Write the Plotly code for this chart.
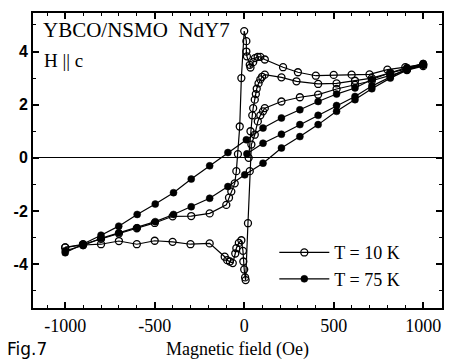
import plotly.graph_objects as go

# ---- data ----
# T = 10 K (open circles)
h10_desc = [1000, 900, 800, 700, 600, 500, 400, 300, 217, 115, 90, 75, 60, 50, 35, 31, 15, 12, 12, 0,
            -16, -25, -35, -44, -53, -72, -85, -100, -193, -296, -400, -500, -600, -700, -800, -900, -1000]
m10_desc = [3.51, 3.41, 3.32, 3.14, 3.13, 3.12, 3.09, 3.22, 3.41, 3.70, 3.80, 3.80, 3.75, 3.60, 3.40, 3.50, 3.82, 4.00, 4.39, 4.77,
            3.00, 1.18, 0.14, -0.50, -0.96, -1.27, -1.50, -1.77, -2.09, -2.19, -2.20, -2.45, -2.65, -2.85, -3.05, -3.25, -3.37]

h10_asc = [-1000, -900, -800, -700, -600, -500, -400, -300, -193, -109, -95, -80, -64, -50, -44, -30, -16, -7, -5, 0, 5, 8,
           21, 31, 40, 59, 76, 90, 105, 115, 208, 311, 413, 516, 619, 713, 816, 909, 1000]
m10_asc = [-3.37, -3.28, -3.25, -3.13, -3.25, -3.12, -3.16, -3.25, -3.22, -3.72, -3.85, -3.90, -3.96, -3.60, -3.40, -3.20, -3.10, -3.50, -3.90, -4.20, -4.50, -4.60,
           -2.46, -0.50, 0.50, 0.87, 1.37, 1.60, 1.75, 1.87, 2.12, 2.28, 2.38, 2.59, 2.75, 2.90, 3.10, 3.30, 3.45]

h10_virgin = [25, 35, 45, 50, 59, 65, 70, 80, 90, 100, 115, 208, 292, 413, 516, 619, 713, 816, 909, 1000]
m10_virgin = [0.00, 1.00, 1.60, 1.87, 2.19, 2.40, 2.60, 2.80, 2.95, 3.05, 3.13, 3.03, 2.88, 2.78, 2.80, 2.90, 3.00, 3.20, 3.35, 3.50]

# T = 75 K (filled circles)
h75_desc = [1000, 909, 816, 713, 619, 516, 413, 311, 208, 105, 12, -91, -193, -296, -395, -497, -598, -701, -800, -903, -1000]
m75_desc = [3.55, 3.40, 3.20, 2.95, 2.63, 2.40, 2.12, 1.81, 1.50, 1.12, 0.68, 0.20, -0.30, -0.80, -1.31, -1.74, -2.13, -2.57, -2.91, -3.25, -3.57]

h75_asc = [-1000, -900, -800, -701, -598, -497, -395, -296, -193, -91, 3, 105, 208, 311, 413, 516, 619, 713, 816, 909, 1000]
m75_asc = [-3.50, -3.30, -3.03, -2.82, -2.63, -2.40, -2.13, -1.84, -1.52, -1.08, -0.64, -0.20, 0.37, 0.80, 1.25, 1.75, 2.19, 2.60, 3.00, 3.30, 3.50]

h75_virgin = [15, 105, 208, 311, 413, 516, 619, 713, 816, 909, 1000]
m75_virgin = [0.15, 0.55, 0.89, 1.25, 1.60, 1.97, 2.31, 2.70, 3.05, 3.35, 3.55]

x_ticks = [-1000, -500, 0, 500, 1000]
y_ticks = [-4, -2, 0, 2, 4]

fig = go.Figure()

open_marker = dict(symbol="circle-open", size=7, color="black", line=dict(width=1.3, color="black"))
filled_marker = dict(symbol="circle", size=7, color="black", line=dict(width=0.5, color="black"))
line_style = dict(color="black", width=1.2)

series = [
    (h10_desc, m10_desc, "T = 10 K", "g10", open_marker, True),
    (h10_asc, m10_asc, "T = 10 K", "g10", open_marker, False),
    (h10_virgin, m10_virgin, "T = 10 K", "g10", open_marker, False),
    (h75_desc, m75_desc, "T = 75 K", "g75", filled_marker, True),
    (h75_asc, m75_asc, "T = 75 K", "g75", filled_marker, False),
    (h75_virgin, m75_virgin, "T = 75 K", "g75", filled_marker, False),
]
for hx, my, name, grp, mk, show in series:
    fig.add_trace(go.Scatter(x=hx, y=my, mode="lines+markers", name=name,
                             legendgroup=grp, showlegend=show,
                             marker=mk, line=line_style))

serif = "Liberation Serif, Times New Roman, serif"
sans = "DejaVu Sans, Liberation Sans, Arial, sans-serif"

fig.update_layout(
    width=453, height=360,
    margin=dict(l=33, r=11, t=13, b=52),
    paper_bgcolor="white", plot_bgcolor="white",
    showlegend=True,
    legend=dict(x=0.59, y=0.25, xanchor="left", yanchor="top",
                bgcolor="rgba(0,0,0,0)", font=dict(family=serif, size=18, color="black"),
                tracegroupgap=0, itemwidth=50),
    xaxis=dict(range=[-1180, 1105], tickvals=x_ticks, ticktext=[str(v) for v in x_ticks],
               automargin=False,
               showgrid=False, zeroline=False,
               showline=True, linecolor="black", linewidth=2, mirror="ticks",
               ticks="inside", ticklen=6, tickwidth=1.5, tickcolor="black",
               minor=dict(dtick=100, ticks="inside", ticklen=3, tickwidth=1, tickcolor="black"),
               tickfont=dict(family=serif, size=18, color="black"),
               title=dict(text="Magnetic field (Oe)", font=dict(family=serif, size=18, color="black"), standoff=10)),
    yaxis=dict(range=[-5.65, 5.45], tickvals=y_ticks, ticktext=[str(v) for v in y_ticks],
               automargin=False,
               showgrid=False, zeroline=True, zerolinecolor="black", zerolinewidth=1.3,
               showline=True, linecolor="black", linewidth=2, mirror="ticks",
               ticks="inside", ticklen=6, tickwidth=1.5, tickcolor="black",
               minor=dict(dtick=1, ticks="inside", ticklen=3, tickwidth=1, tickcolor="black"),
               tickfont=dict(family="Liberation Sans, Arial, sans-serif", size=16, color="black", weight="bold")),
    annotations=[
        dict(text="YBCO/NSMO  NdY7", x=0.02, y=0.99, xref="paper", yref="paper",
             xanchor="left", yanchor="top", showarrow=False,
             font=dict(family=serif, size=21, color="black")),
        dict(text="H || c", x=0.022, y=0.88, xref="paper", yref="paper",
             xanchor="left", yanchor="top", showarrow=False,
             font=dict(family=serif, size=19, color="black")),
        dict(text="Fig.7", x=-28 / 409, y=-(349 - 308) / 295, xref="paper", yref="paper",
             xanchor="left", yanchor="middle", showarrow=False,
             font=dict(family=sans, size=17, color="black")),
    ],
)

fig.write_html("out.html")
